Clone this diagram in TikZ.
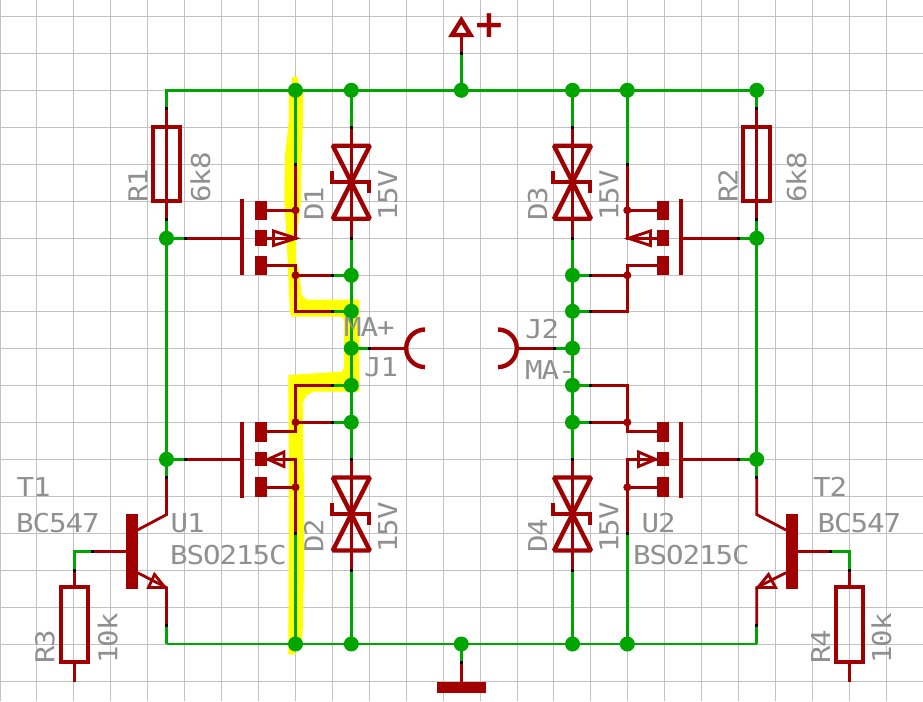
\documentclass[tikz,border=0pt]{standalone}
\usepackage{fontspec}
\newfontfamily\lblfont{DejaVu Sans Mono}[FakeStretch=1.12,LetterSpace=-4]
\newfontfamily\plusfont{DejaVu Sans}[BoldFont={DejaVu Sans Bold}]
\pgfdeclarelayer{under}
\pgfsetlayers{under,main}
\definecolor{wirered}{HTML}{A00000}
\definecolor{netgreen}{HTML}{00A500}
\definecolor{gridgray}{HTML}{C2C2C2}
\definecolor{labelgray}{HTML}{909090}
\definecolor{hilite}{HTML}{FFFF00}
\tikzset{
  junc/.style={circle,fill=netgreen,inner sep=0pt,minimum size=15pt},
  rdot/.style={circle,fill=wirered,inner sep=0pt,minimum size=8pt},
  pinm/.style={rectangle,fill=black,inner sep=0pt,minimum width=3pt,minimum height=3pt},
  net/.style={draw=netgreen,line width=2.6pt,line join=miter},
  sig/.style={draw=wirered,line width=2.8pt,line join=miter},
  padbox/.style={rectangle,fill=wirered,inner sep=0pt,minimum width=12pt},
  gatebar/.style={rectangle,fill=wirered,inner sep=0pt,minimum width=4pt,minimum height=75.5pt},
  resbox/.style={rectangle,draw=wirered,line width=3.8pt,inner sep=0pt,minimum width=26.7pt,minimum height=74.4pt},
  tbar/.style={rectangle,fill=wirered,inner sep=0pt,minimum width=12pt,minimum height=74.5pt},
  tri/.style={draw=wirered,line width=2.9pt,line join=miter},
  lbl/.style={font=\lblfont\fontsize{26}{26}\selectfont,text=labelgray,inner sep=0pt,anchor=base west},
  rlbl/.style={lbl,rotate=90},
  zenersym/.pic={
    \draw[wirered,line width=4.4pt,line join=bevel] (-18.5,-36.5) -- (18.5,-36.5) -- (-18.5,36.5) -- (18.5,36.5) -- cycle;
    \draw[wirered,line width=3.8pt,line join=miter] (-19.3,-11) -- (-19.3,0) -- (17.7,0) -- (17.7,11);
  }
}
\begin{document}
\begin{tikzpicture}[x=1pt,y=-1pt]
\useasboundingbox (0,0) rectangle (923,701);
\clip (0,0) rectangle (923,701);
% junctions
\node[junc] (t1) at (295.5,90.3) {};
\node[junc] (t2) at (351.3,90.3) {};
\node[junc] (t3) at (461.3,90.3) {};
\node[junc] (t4) at (572.5,90.3) {};
\node[junc] (t5) at (627.3,90.3) {};
\node[junc] (t6) at (756.7,90.3) {};
\node[junc] (b1) at (295.5,644) {};
\node[junc] (b2) at (351.3,644) {};
\node[junc] (b3) at (461.3,644) {};
\node[junc] (b4) at (572.5,644) {};
\node[junc] (b5) at (627.3,644) {};
\node[junc] (gl1) at (166.5,238.3) {};
\node[junc] (gl2) at (166.5,459.3) {};
\node[junc] (gr1) at (756.7,238.3) {};
\node[junc] (gr2) at (756.7,459.3) {};
\node[junc] (c1) at (351.3,275.3) {};
\node[junc] (c2) at (351.3,311.3) {};
\node[junc] (c3) at (351.3,348.3) {};
\node[junc] (c4) at (351.3,385.3) {};
\node[junc] (c5) at (351.3,422.3) {};
\node[junc] (e1) at (572.5,275.3) {};
\node[junc] (e2) at (572.5,311.3) {};
\node[junc] (e3) at (572.5,348.3) {};
\node[junc] (e4) at (572.5,385.3) {};
\node[junc] (e5) at (572.5,422.3) {};
% small red junctions
\node[rdot] (d1) at (295.5,210.3) {};
\node[rdot] (d2) at (295.5,275.3) {};
\node[rdot] (d3) at (295.5,422.3) {};
\node[rdot] (d4) at (295.5,487.3) {};
\node[rdot] (d5) at (627.3,210.3) {};
\node[rdot] (d6) at (627.3,275.3) {};
\node[rdot] (d7) at (627.3,422.3) {};
\node[rdot] (d8) at (627.3,487.3) {};
% free corners
\coordinate (cTL) at (166.5,90.3);
\coordinate (cBL) at (166.5,644);
\coordinate (cBR) at (756.7,644);
% pin marks
\node[pinm] (pa1) at (166.5,108.9) {};
\node[pinm] (pa2) at (166.5,219.5) {};
\node[pinm] (pa3) at (166.5,477.3) {};
\node[pinm] (pa4) at (166.5,625) {};
\node[pinm] (pg1) at (756.7,108.9) {};
\node[pinm] (pg2) at (756.7,219.5) {};
\node[pinm] (pg3) at (756.7,477.3) {};
\node[pinm] (pg4) at (756.7,625) {};
\node[pinm] (pb1) at (295.5,164.3) {};
\node[pinm] (pb2) at (295.5,533.3) {};
\node[pinm] (pf1) at (627.3,164.3) {};
\node[pinm] (pf2) at (627.3,533.3) {};
\node[pinm] (pc1) at (351.3,127.3) {};
\node[pinm] (pc2) at (351.3,238.3) {};
\node[pinm] (pc3) at (351.3,459.3) {};
\node[pinm] (pc4) at (351.3,570.3) {};
\node[pinm] (pe1) at (572.5,127.3) {};
\node[pinm] (pe2) at (572.5,238.3) {};
\node[pinm] (pe3) at (572.5,459.3) {};
\node[pinm] (pe4) at (572.5,570.3) {};
\node[pinm] (ph1) at (332.7,275.3) {};
\node[pinm] (ph2) at (332.7,311.3) {};
\node[pinm] (ph3) at (332.7,385.3) {};
\node[pinm] (ph4) at (332.7,422.3) {};
\node[pinm] (pi1) at (590.3,275.3) {};
\node[pinm] (pi2) at (590.3,311.3) {};
\node[pinm] (pi3) at (590.3,385.3) {};
\node[pinm] (pi4) at (590.3,422.3) {};
\node[pinm] (pj1) at (369.3,348.3) {};
\node[pinm] (pj2) at (554.3,348.3) {};
\node[pinm] (pk1) at (185.7,238.3) {};
\node[pinm] (pk2) at (185.7,459.3) {};
\node[pinm] (pk3) at (738.3,238.3) {};
\node[pinm] (pk4) at (738.3,459.3) {};
\node[pinm] (pl1) at (92.5,551.3) {};
\node[pinm] (pl2) at (74.3,570.3) {};
\node[pinm] (pl3) at (830.3,551.3) {};
\node[pinm] (pl4) at (849.3,570.3) {};
\node[pinm] (pp) at (461.3,53.3) {};
\node[pinm] (pq) at (461.3,662.3) {};
% MOSFET bars and pads
\node[gatebar] (g1) at (242,237) {};
\node[gatebar] (g2) at (242,460) {};
\node[gatebar] (g3) at (681,237) {};
\node[gatebar] (g4) at (681,460) {};
\node[padbox,minimum height=18.7pt] (s1) at (261,210.3) {};
\node[padbox,minimum height=15.7pt] (s2) at (261,238.3) {};
\node[padbox,minimum height=19.3pt] (s3) at (261,265.6) {};
\node[padbox,minimum height=19.7pt] (s4) at (261,431.8) {};
\node[padbox,minimum height=14.3pt] (s5) at (261,459.3) {};
\node[padbox,minimum height=19.7pt] (s6) at (261,487.3) {};
\node[padbox,minimum height=18.7pt] (s7) at (663,210.3) {};
\node[padbox,minimum height=15.7pt] (s8) at (663,238.3) {};
\node[padbox,minimum height=19.3pt] (s9) at (663,265.6) {};
\node[padbox,minimum height=19.7pt] (s10) at (663,431.8) {};
\node[padbox,minimum height=14.3pt] (s11) at (663,459.3) {};
\node[padbox,minimum height=19.7pt] (s12) at (663,487.3) {};
% resistors
\node[resbox] (R1) at (166.5,164) {};
\node[resbox] (R2) at (756.7,164) {};
\node[resbox] (R3) at (74.3,624.5) {};
\node[resbox] (R4) at (849.3,624.5) {};
% transistors
\node[tbar] (T1) at (132,551.3) {};
\node[tbar] (T2) at (792,551.3) {};
% supply symbols
\node[rectangle,fill=wirered,inner sep=0pt,minimum width=49.3pt,minimum height=10.7pt] (gnd) at (461.3,687.3) {};
\coordinate (vcc) at (461.3,37);
% free ends
\coordinate (R3end) at (74.3,681.5);
\coordinate (R4end) at (849.3,681.5);
% corners of wires
\coordinate (cB1) at (74.3,551.3);
\coordinate (cB2) at (849.3,551.3);
\coordinate (cC1) at (166.5,514.6);
\coordinate (cC2) at (756.7,514.6);
\coordinate (cE1) at (166.5,587.6);
\coordinate (cE2) at (756.7,587.6);
% labels
\node[lbl] (lT1) at (16.5,496) {T1};
\node[lbl] (lBC1) at (16,532.7) {BC547};
\node[lbl] (lU1) at (170.5,532.7) {U1};
\node[lbl] (lBS1) at (170,564) {BSO215C};
\node[lbl] (lT2) at (813,496) {T2};
\node[lbl] (lBC2) at (817.5,532.7) {BC547};
\node[lbl] (lU2) at (641.5,532) {U2};
\node[lbl] (lBS2) at (633,564) {BSO215C};
\node[lbl] (lJ1) at (364,376) {J1};
\node[lbl] (lMAp) at (344,336) {MA+};
\node[lbl] (lJ2) at (525,338) {J2};
\node[lbl] (lMAm) at (525,379.3) {MA-};
\node[rlbl] (lR1) at (147.3,203) {R1};
\node[rlbl] (l6k1) at (210,203) {6k8};
\node[rlbl] (lR2) at (737.7,203) {R2};
\node[rlbl] (l6k2) at (806,203) {6k8};
\node[rlbl] (lD1) at (323.3,221) {D1};
\node[rlbl] (lV1) at (397,221) {15V};
\node[rlbl] (lD3) at (547,221) {D3};
\node[rlbl] (lV3) at (618.3,221) {15V};
\node[rlbl] (lD2) at (323.3,553) {D2};
\node[rlbl] (lV2) at (397,553) {15V};
\node[rlbl] (lD4) at (547,553) {D4};
\node[rlbl] (lV4) at (618.3,553) {15V};
\node[rlbl] (lR3) at (54.3,664) {R3};
\node[rlbl] (l10a) at (117.3,664) {10k};
\node[rlbl] (lR4) at (830,664) {R4};
\node[rlbl] (l10b) at (891,664) {10k};
\node[font=\plusfont\bfseries\fontsize{38}{38}\selectfont,text=wirered,inner sep=0pt,anchor=base] (plus) at (489,37.5) {+};
\begin{pgfonlayer}{under}
\fill[white] (0,0) rectangle (923,701);
\foreach \i in {0,...,25} {\pgfmathsetmacro\gx{floor(36.93*\i+0.05)+0.5}
  \draw[gridgray,line width=1.4pt] (\gx,0) -- (\gx,701);}
\foreach \j in {0,...,18} {\pgfmathsetmacro\gy{floor(16.5+36.93*\j)+0.5}
  \draw[gridgray,line width=1.4pt] (0,\gy) -- (923,\gy);}
% highlight
\fill[hilite] (291.7,76.7) -- (297.7,76.7) -- (299,85) -- (303.3,90) -- (303,120) -- (301.7,155) -- (301,200) -- (298,228) -- (296,240) -- (296,262) -- (299,270) -- (301.7,295) -- (306,299.5) -- (359.3,299.5) -- (359.3,391.7) -- (313,391.7) -- (306,396) -- (302.7,403) -- (304,490) -- (304,570) -- (302.7,630) -- (302,640) -- (294,654.7) -- (288.3,654.7) -- (289,490) -- (288.3,375) -- (341.7,371.7) -- (344,368) -- (344,320) -- (342,316.7) -- (291.7,316.7) -- (290,312) -- (288,270) -- (286.7,240) -- (284.3,200) -- (285,155) -- (289,120) -- (288.7,90) -- (291.7,85) -- cycle;
% green nets
\draw[net] (pa1.center) -- (cTL) -- (t1.center) -- (t6.center) -- (pg1.center);
\draw[net] (cBR) -- (cBL);
\draw[net] (pa4.center) -- (cBL);
\draw[net] (pg4.center) -- (cBR);
\draw[net] (pa2.center) -- (pa3.center);
\draw[net] (pg2.center) -- (pg3.center);
\draw[net] (t1.center) -- (pb1.center);
\draw[net] (pb2.center) -- (b1.center);
\draw[net] (t5.center) -- (pf1.center);
\draw[net] (pf2.center) -- (b5.center);
\draw[net] (t2.center) -- (pc1.center);
\draw[net] (pc2.center) -- (pc3.center);
\draw[net] (pc4.center) -- (b2.center);
\draw[net] (t4.center) -- (pe1.center);
\draw[net] (pe2.center) -- (pe3.center);
\draw[net] (pe4.center) -- (b4.center);
\draw[net] (t3.center) -- (pp.center);
\draw[net] (b3.center) -- (pq.center);
\draw[net] (c1.center) -- (ph1.center);
\draw[net] (c2.center) -- (ph2.center);
\draw[net] (c4.center) -- (ph3.center);
\draw[net] (c5.center) -- (ph4.center);
\draw[net] (e1.center) -- (pi1.center);
\draw[net] (e2.center) -- (pi2.center);
\draw[net] (e4.center) -- (pi3.center);
\draw[net] (e5.center) -- (pi4.center);
\draw[net] (c3.center) -- (pj1.center);
\draw[net] (e3.center) -- (pj2.center);
\draw[net] (gl1.center) -- (pk1.center);
\draw[net] (gl2.center) -- (pk2.center);
\draw[net] (gr1.center) -- (pk3.center);
\draw[net] (gr2.center) -- (pk4.center);
\draw[net] (pl1.center) -- (cB1) -- (pl2.center);
\draw[net] (pl3.center) -- (cB2) -- (pl4.center);
% red wires
\draw[sig] (pa1.center) -- (pa2.center);
\draw[sig] (pg1.center) -- (pg2.center);
\draw[sig] (pl2.center) -- (R3.north);
\draw[sig] (R3.south) -- (R3end);
\draw[sig] (pl4.center) -- (R4.north);
\draw[sig] (R4.south) -- (R4end);
\draw[sig] (pc1.center) -- (pc2.center);
\draw[sig] (pc3.center) -- (pc4.center);
\draw[sig] (pe1.center) -- (pe2.center);
\draw[sig] (pe3.center) -- (pe4.center);
\draw[sig] (pk1.center) -- (pk1.center -| g1.center);
\draw[sig] (pk2.center) -- (pk2.center -| g2.center);
\draw[sig] (pk3.center) -- (pk3.center -| g3.center);
\draw[sig] (pk4.center) -- (pk4.center -| g4.center);
% left upper FET
\draw[sig] (pb1.center) -- (s2.center -| pb1) -- (s2.center);
\draw[sig] (s1.center) -- (d1.center);
\draw[sig] (s3.center) -- (s3.center -| d2) -- (d2.center) -- (d2.center |- ph2) -- (ph2.center);
\draw[sig] (d2.center) -- (ph1.center);
% left lower FET
\draw[sig] (ph3.center) -- (ph3.center -| d3) -- (d3.center) -- (d3.center |- s4.center) -- (s4.center);
\draw[sig] (d3.center) -- (ph4.center);
\draw[sig] (s5.center) -- (s5.center -| pb2) -- (pb2.center);
\draw[sig] (s6.center) -- (d4.center);
% right upper FET
\draw[sig] (pf1.center) -- (s8.center -| pf1) -- (s8.center);
\draw[sig] (s7.center) -- (d5.center);
\draw[sig] (s9.center) -- (s9.center -| d6) -- (d6.center) -- (d6.center |- pi2) -- (pi2.center);
\draw[sig] (d6.center) -- (pi1.center);
% right lower FET
\draw[sig] (pi3.center) -- (pi3.center -| d7) -- (d7.center) -- (d7.center |- s10.center) -- (s10.center);
\draw[sig] (d7.center) -- (pi4.center);
\draw[sig] (s11.center) -- (s11.center -| pf2) -- (pf2.center);
\draw[sig] (s12.center) -- (d8.center);
% FET arrows
\draw[tri] (296,238.3) -- (273.5,231) -- (273.5,245.5) -- cycle;
\draw[tri] (268,459.3) -- (284,452) -- (284,466.5) -- cycle;
\draw[tri] (628.5,238.3) -- (650.5,231) -- (650.5,245.5) -- cycle;
\draw[tri] (655.5,459.3) -- (638.5,452) -- (638.5,466.5) -- cycle;
% transistor wires
\draw[sig] (pa3.center) -- (cC1) -- (137.5,530);
\draw[sig] (pg3.center) -- (cC2) -- (786,530);
\draw[sig] (T1.center) -- (pl1.center);
\draw[sig] (T2.center) -- (pl3.center);
\draw[sig] (137.5,572.7) -- (cE1) -- (pa4.center);
\draw[sig] (786,572.7) -- (cE2) -- (pg4.center);
\draw[tri] (165,587.5) -- (154.5,574.5) -- (148.5,587.5) -- cycle;
\draw[tri] (758,587.5) -- (768.5,574.5) -- (775.5,587.5) -- cycle;
% zeners
\pic at (351.3,182.2) {zenersym};
\pic at (351.3,514) {zenersym};
\pic at (572.5,182.2) {zenersym};
\pic at (572.5,514) {zenersym};
% jacks
\draw[sig] (pj1.center) -- (405,348.3);
\draw[sig] (pj2.center) -- (517,348.3);
\draw[wirered,line width=4.4pt] (425,329.5) arc[start angle=-90,end angle=-270,radius=18.8];
\draw[wirered,line width=4.4pt] (498,329.5) arc[start angle=-90,end angle=90,radius=18.8];
% supply
\draw[sig] (pp.center) -- (vcc);
\draw[wirered,line width=4.4pt,line join=miter] (461.3,20) -- (470.5,35) -- (452,35) -- cycle;
\draw[sig] (pq.center) -- (gnd.north);
\end{pgfonlayer}
\end{tikzpicture}
\end{document}
